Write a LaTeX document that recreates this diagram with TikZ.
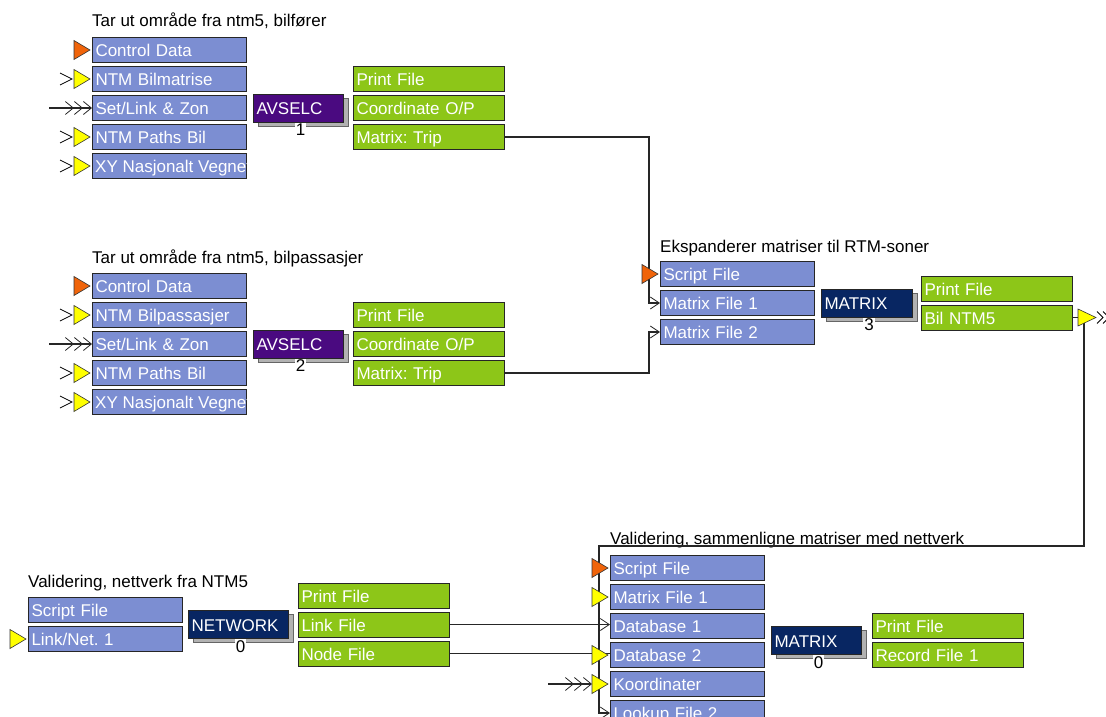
\documentclass[tikz,border=0pt]{standalone}
\usepackage{fontspec}
\setmainfont{Liberation Sans}
\frenchspacing
\usetikzlibrary{positioning, calc, arrows.meta, shadows}

\definecolor{inblue}{RGB}{124,142,210}
\definecolor{outgreen}{RGB}{141,198,24}
\definecolor{avspurple}{RGB}{74,10,128}
\definecolor{modnavy}{RGB}{8,38,98}
\definecolor{portorange}{RGB}{240,100,10}
\definecolor{portyellow}{RGB}{255,255,0}

\newcommand{\diagfont}{\fontsize{17}{20}\selectfont}

\tikzset{
  % File boxes
  inbox/.style    = { draw=black!85, line width=1pt, fill=inblue, text=white,
                      font=\diagfont, text width=148pt, align=left, inner xsep=3pt,
                      inner ysep=0pt, minimum height=25pt, text height=13pt, text depth=-3pt },
  outbox/.style   = { inbox, fill=outgreen, text width=145pt },
  boxtext/.style  = { text=white, font=\diagfont, inner xsep=3pt, inner ysep=0pt,
                      text height=13pt, text depth=-3pt },
  % Program modules
  modbox/.style   = { draw=black!85, line width=1pt, fill=#1, text=white, font=\diagfont,
                      align=left, minimum height=28pt, inner xsep=3pt, inner ysep=0pt,
                      text height=13pt, text depth=-3pt,
                      general shadow={fill=gray!60, draw=black!60, line width=1pt,
                                      shadow xshift=5pt, shadow yshift=-4pt} },
  modnum/.style   = { font=\diagfont, fill=white, inner sep=1pt },
  grouptitle/.style = { font=\diagfont, anchor=base west, inner sep=0pt },
  % Connectors
  wire/.style     = { line width=1.1pt, black!85 },
  inwire/.style   = { wire, -{Straight Barb[length=9pt,width=12pt,line width=0.8pt]} },
  multiwire/.style= { wire, -{Straight Barb[length=8pt,width=13pt,line width=0.8pt]
                              Straight Barb[length=8pt,width=13pt,line width=0.8pt]
                              Straight Barb[length=8pt,width=13pt,line width=0.8pt]} },
  % Port markers
  pics/porttri/.style = { code = {
      \filldraw[fill=#1, draw=black!80, line width=0.6pt] (-18,-9.5) -- (-2,0) -- (-18,9.5) -- cycle; } },
  pics/portchev/.style = { code = {
      \draw[line width=0.8pt] (-32,-6) -- (-20,0) -- (-32,6); } },
  pics/outport/.style = { code = {
      \filldraw[fill=portyellow, draw=black!80, line width=0.6pt] (5,-8.5) -- (23,0) -- (5,8.5) -- cycle;
      \draw[line width=0.8pt] (24,-6) -- (30,0) -- (24,6) (30,-6) -- (36,0) -- (30,6); } }
}

\begin{document}
\begin{tikzpicture}[x=1pt, y=-1pt]
  \useasboundingbox (0,0) rectangle (1106,717);

  % Tar ut, bilfoerer
  \node[grouptitle] (t1) at (92,27) {Tar ut område fra ntm5, bilfører};
  \node[inbox, anchor=west] (cd1) at (92,50) {Control Data};
  \node[inbox, below=3pt of cd1] (bm1) {NTM Bilmatrise};
  \node[inbox, below=3pt of bm1] (sl1) {Set/Link \& Zon};
  \node[inbox, below=3pt of sl1] (np1) {NTM Paths Bil};
  \node[inbox, below=3pt of np1] (xy1) {};
  \begin{scope}
    \clip (xy1.south west) rectangle ([xshift=-1pt]xy1.north east);
    \node[boxtext, anchor=west] (xy1txt) at (xy1.west) {XY Nasjonalt Vegnett};
  \end{scope}
  \node[modbox=avspurple, text width=84pt, right=6pt of sl1] (avs1) {AVSELC};
  \node[modnum, below=0pt of avs1, xshift=2pt] (n1) {1};
  \node[outbox, right=9pt of avs1] (co1) {Coordinate O/P};
  \node[outbox, above=3pt of co1] (pf1) {Print File};
  \node[outbox, below=3pt of co1] (mt1) {Matrix: Trip};

  % Tar ut, bilpassasjer
  \node[grouptitle] (t2) at (92,263) {Tar ut område fra ntm5, bilpassasjer};
  \node[inbox, anchor=west] (cd2) at (92,286) {Control Data};
  \node[inbox, below=3pt of cd2] (bm2) {NTM Bilpassasjer};
  \node[inbox, below=3pt of bm2] (sl2) {Set/Link \& Zon};
  \node[inbox, below=3pt of sl2] (np2) {NTM Paths Bil};
  \node[inbox, below=3pt of np2] (xy2) {};
  \begin{scope}
    \clip (xy2.south west) rectangle ([xshift=-1pt]xy2.north east);
    \node[boxtext, anchor=west] (xy2txt) at (xy2.west) {XY Nasjonalt Vegnett};
  \end{scope}
  \node[modbox=avspurple, text width=84pt, right=6pt of sl2] (avs2) {AVSELC};
  \node[modnum, below=0pt of avs2, xshift=2pt] (n2) {2};
  \node[outbox, right=9pt of avs2] (co2) {Coordinate O/P};
  \node[outbox, above=3pt of co2] (pf2) {Print File};
  \node[outbox, below=3pt of co2] (mt2) {Matrix: Trip};

  % Ekspanderer
  \node[grouptitle] (t3) at (660,252) {Ekspanderer matriser til RTM-soner};
  \node[inbox, anchor=west] (sf3) at (660,274) {Script File};
  \node[inbox, below=3pt of sf3] (mf31) {Matrix File 1};
  \node[inbox, below=3pt of mf31] (mf32) {Matrix File 2};
  \node[modbox=modnavy, text width=85pt, right=6pt of mf31] (mx3) {MATRIX};
  \node[modnum, below=0pt of mx3, xshift=2pt] (n3) {3};
  \node[outbox, anchor=south west] (pf3) at ([xshift=8pt,yshift=1.5pt]mx3.east) {Print File};
  \node[outbox, below=3pt of pf3] (bn3) {Bil NTM5};

  % Validering, nettverk
  \node[grouptitle] (t4) at (28,587) {Validering, nettverk fra NTM5};
  \node[inbox, anchor=west] (sf4) at (28,610) {Script File};
  \node[inbox, below=3pt of sf4] (ln4) {Link/Net. 1};
  \node[modbox=modnavy, text width=94pt, anchor=west] (nw4) at ($(sf4.east)!0.5!(ln4.east)+(5,0)$) {NETWORK};
  \node[modnum, below=0pt of nw4, xshift=2pt] (n4) {0};
  \node[outbox, right=9pt of nw4] (lf4) {Link File};
  \node[outbox, above=3pt of lf4] (pf4) {Print File};
  \node[outbox, below=3pt of lf4] (nf4) {Node File};

  % Validering, sammenligne
  \node[grouptitle] (t5) at (610,544) {Validering, sammenligne matriser med nettverk};
  \node[inbox, anchor=west] (sf5) at (610,568) {Script File};
  \node[inbox, below=3pt of sf5] (mf5) {Matrix File 1};
  \node[inbox, below=3pt of mf5] (db1) {Database 1};
  \node[inbox, below=3pt of db1] (db2) {Database 2};
  \node[inbox, below=3pt of db2] (ko) {Koordinater};
  \node[inbox, below=3pt of ko] (lk) {Lookup File 2};
  \node[modbox=modnavy, text width=84pt, anchor=west] (mx5) at ($(db1.east)!0.5!(db2.east)+(6,0)$) {MATRIX};
  \node[modnum, below=0pt of mx5, xshift=2pt] (n5) {0};
  \node[outbox, anchor=south west] (pf5) at ([xshift=10pt,yshift=1.5pt]mx5.east) {Print File};
  \node[outbox, below=3pt of pf5] (rf5) {Record File 1};

  % Connectors
  \coordinate[left=11pt of mf31] (j31);
  \coordinate[left=11pt of mf32] (j32);
  \draw[inwire] (mt1.east) -| (j31) -- (mf31.west);
  \draw[inwire] (mt2.east) -| (j32) -- (mf32.west);

  \coordinate (bus0) at ([xshift=11pt]bn3.east);
  \coordinate (bus1) at ([shift={(-11pt,9pt)}]sf5.north west);
  \draw[inwire] (bn3.east) -- (bus0) |- (bus1) |- (lk.west);

  \draw[inwire] (lf4.east) -- (lf4.east -| db1.west);
  \draw[wire] (nf4.east) -- (nf4.east -| db2.west);

  \coordinate (kofree) at ([xshift=-62pt]ko.west);
  \coordinate[left=18pt of ko] (koport);
  \draw[multiwire] (kofree) -- (koport);

  \coordinate (slfree1) at ([xshift=-43pt]sl1.west);
  \coordinate (slfree2) at ([xshift=-43pt]sl2.west);
  \draw[multiwire] (slfree1) -- (sl1.west);
  \draw[multiwire] (slfree2) -- (sl2.west);

  % Ports
  \foreach \p in {cd1, cd2, sf3, sf5}
    \pic at (\p.west) {porttri=portorange};
  \foreach \p in {bm1, np1, xy1, bm2, np2, xy2} {
    \pic at (\p.west) {porttri=portyellow};
    \pic at (\p.west) {portchev};
  }
  \foreach \p in {ln4, mf5, db2, ko}
    \pic at (\p.west) {porttri=portyellow};
  \pic at (bn3.east) {outport};

\end{tikzpicture}
\end{document}
